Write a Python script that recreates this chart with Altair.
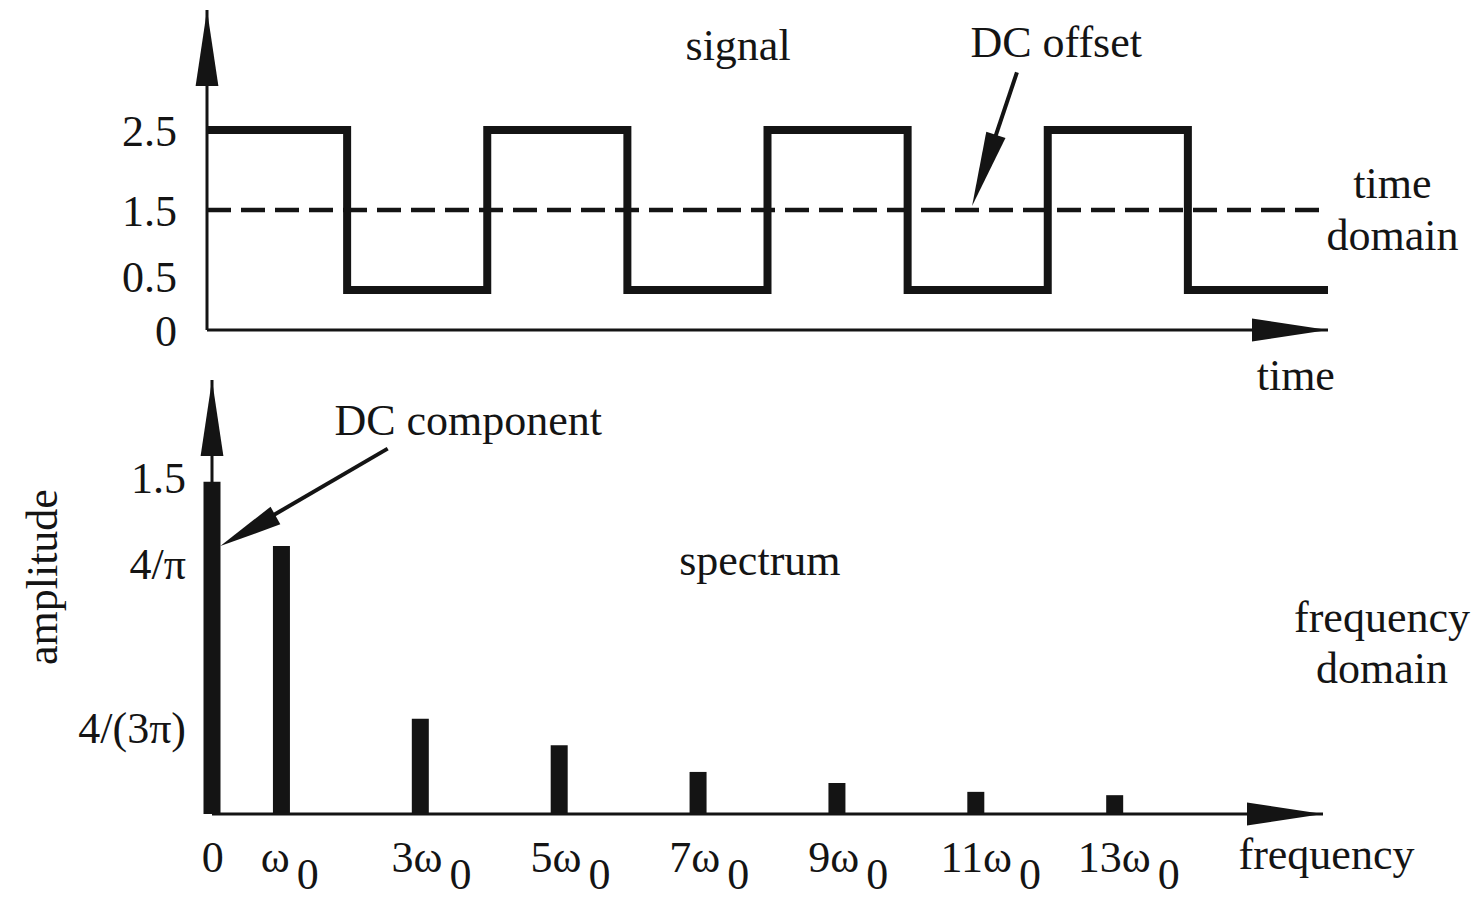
import altair as alt
import pandas as pd

# ---------------- data ----------------
# time domain: square wave, one level per half period
signal_t = [0, 1, 2, 3, 4, 5, 6, 7, 8]
signal_v = [2.5, 0.5, 2.5, 0.5, 2.5, 0.5, 2.5, 0.5, 0.5]
dc_offset = 1.5
signal_ticks = [0, 0.5, 1.5, 2.5]
signal_tick_labels = ["0", "0.5", "1.5", "2.5"]

# frequency domain: spectrum lines
harmonics = [0, 1, 3, 5, 7, 9, 11, 13]
amplitudes = [1.5, 1.21, 0.43, 0.31, 0.19, 0.14, 0.10, 0.085]
freq_labels = ["0", "ω", "3ω", "5ω", "7ω", "9ω", "11ω", "13ω"]
freq_subscripts = ["", "0", "0", "0", "0", "0", "0", "0"]
amp_ticks = [1.51, 1.12, 0.38]
amp_tick_labels = ["1.5", "4/π", "4/(3π)"]

# axis extents (data units)
T_MAX, V_MAX = 8, 4
F_MAX, A_MAX = 16, 1.96

# annotations (data units of each panel)
top_notes = pd.DataFrame({
    "text": ["signal", "DC offset", "time", "domain", "time"],
    "t": [3.79, 6.06, 8.46, 8.46, 7.77],
    "v": [3.54, 3.58, 1.81, 1.16, -0.59],
})
bottom_notes = pd.DataFrame({
    "text": ["DC component", "spectrum", "frequency", "domain", "frequency"],
    "f": [3.69, 7.89, 16.85, 16.85, 16.05],
    "a": [1.77, 1.14, 0.88, 0.65, -0.19],
})
amp_title = pd.DataFrame({"text": ["amplitude"], "f": [-2.42], "a": [1.07]})
offset_arrow = pd.DataFrame({"t": [5.46], "v": [1.55], "t2": [5.78], "v2": [3.22]})
dc_arrow = pd.DataFrame({"f": [0.12], "a": [1.21], "f2": [2.53], "a2": [1.65]})

# ---------------- style ----------------
FONT = "Liberation Serif"
FS = 44
INK = "#141414"
HEAD_AXIS = "M0,0 L0.3,2 L-0.3,2 Z"
HEAD_OFFSET = "M0,0 L0.27,2 L-0.27,2 Z"
HEAD_DC = "M0,0 L0.32,2 L-0.32,2 Z"
text_kw = dict(font=FONT, fontSize=FS, color=INK)

XS_T = alt.Scale(domain=[0, T_MAX], nice=False, zero=False)
YS_T = alt.Scale(domain=[0, V_MAX], nice=False, zero=False)
XS_F = alt.Scale(domain=[0, F_MAX], nice=False, zero=False)
YS_F = alt.Scale(domain=[0, A_MAX], nice=False, zero=False)


def px(field, scale):
    return alt.X(field, type="quantitative", scale=scale, axis=None)


def py(field, scale):
    return alt.Y(field, type="quantitative", scale=scale, axis=None)


def dxd(value, scale):
    return alt.XDatum(value, type="quantitative", scale=scale, axis=None)


def dyd(value, scale):
    return alt.YDatum(value, type="quantitative", scale=scale, axis=None)


# ---------------- top panel: time domain ----------------
top_axes = pd.DataFrame({"x": [0, 0], "y": [0, 0], "x2": [0, T_MAX], "y2": [V_MAX, 0]})
top_heads = pd.DataFrame({"x": [0, T_MAX], "y": [V_MAX, 0], "angle": [0, 90]})

axes_t = alt.Chart(top_axes).mark_rule(strokeWidth=3, color=INK).encode(
    x=px("x", XS_T), y=py("y", YS_T), x2="x2:Q", y2="y2:Q")
heads_t = alt.Chart(top_heads).mark_point(
    shape=HEAD_AXIS, size=5776, filled=True, opacity=1, color=INK, strokeWidth=0
).encode(x=px("x", XS_T), y=py("y", YS_T), angle=alt.Angle("angle:Q", scale=None))
dc_line = alt.Chart(pd.DataFrame({"dc": [dc_offset]})).mark_rule(
    strokeWidth=4.5, strokeDash=[24, 10], color=INK
).encode(x=dxd(0, XS_T), x2=alt.X2Datum(T_MAX), y=py("dc", YS_T))
wave = alt.Chart(pd.DataFrame({"t": signal_t, "v": signal_v})).mark_line(
    interpolate="step-after", strokeWidth=8, color=INK, strokeJoin="miter"
).encode(x=px("t", XS_T), y=py("v", YS_T))
# the 0.5 label sits slightly above its level so it clears the 0 label
ticks_t = alt.Chart(pd.DataFrame({"v": signal_ticks, "label": signal_tick_labels})).transform_calculate(
    lv="datum.v == 0.5 ? datum.v + 0.17 : datum.v"
).mark_text(align="right", baseline="middle", dx=-30, dy=3, **text_kw).encode(
    x=dxd(0, XS_T), y=py("lv", YS_T), text="label:N")
notes_t = alt.Chart(top_notes).mark_text(align="center", baseline="middle", **text_kw).encode(
    x=px("t", XS_T), y=py("v", YS_T), text="text:N")
shaft_t = alt.Chart(offset_arrow).transform_calculate(
    te="datum.t + 0.25 * (datum.t2 - datum.t)", ve="datum.v + 0.25 * (datum.v2 - datum.v)"
).mark_rule(strokeWidth=4, color=INK).encode(
    x=px("t2", XS_T), y=py("v2", YS_T), x2="te:Q", y2="ve:Q")
head_t = alt.Chart(offset_arrow).mark_point(
    shape=HEAD_OFFSET, size=5625, angle=198.5, filled=True, opacity=1, color=INK, strokeWidth=0
).encode(x=px("t", XS_T), y=py("v", YS_T))

top = alt.layer(axes_t, dc_line, wave, heads_t, ticks_t, notes_t, shaft_t, head_t).properties(
    width=1121, height=320)

# ---------------- bottom panel: frequency domain ----------------
bot_axes = pd.DataFrame({"x": [0, 0], "y": [0, 0], "x2": [0, F_MAX], "y2": [A_MAX, 0]})
bot_heads = pd.DataFrame({"x": [0, F_MAX], "y": [A_MAX, 0], "angle": [0, 90]})
spec_df = pd.DataFrame({"h": harmonics, "amp": amplitudes, "main": freq_labels,
                        "sub": freq_subscripts})

axes_f = alt.Chart(bot_axes).mark_rule(strokeWidth=3, color=INK).encode(
    x=px("x", XS_F), y=py("y", YS_F), x2="x2:Q", y2="y2:Q")
heads_f = alt.Chart(bot_heads).mark_point(
    shape=HEAD_AXIS, size=5776, filled=True, opacity=1, color=INK, strokeWidth=0
).encode(x=px("x", XS_F), y=py("y", YS_F), angle=alt.Angle("angle:Q", scale=None))
bars = alt.Chart(spec_df).mark_bar(size=17, color=INK, orient="vertical").encode(
    x=px("h", XS_F), y=py("amp", YS_F))
xlab = alt.Chart(spec_df).transform_calculate(
    lx="datum.h + (datum.sub == '' ? 0.17 : 0.2 * length(datum.main) - 0.08)")
main_lab = xlab.mark_text(align="right", baseline="alphabetic", dy=58, **text_kw).encode(
    x=px("lx", XS_F), y=dyd(0, YS_F), text="main:N")
sub_lab = xlab.mark_text(align="left", baseline="alphabetic", dx=7, dy=75, **text_kw).encode(
    x=px("lx", XS_F), y=dyd(0, YS_F), text="sub:N")
ylab = alt.Chart(pd.DataFrame({"a": amp_ticks, "label": amp_tick_labels})).mark_text(
    align="right", baseline="middle", dx=-26, **text_kw
).encode(x=dxd(0, XS_F), y=py("a", YS_F), text="label:N")
notes_f = alt.Chart(bottom_notes).mark_text(align="center", baseline="middle", **text_kw).encode(
    x=px("f", XS_F), y=py("a", YS_F), text="text:N")
title_f = alt.Chart(amp_title).mark_text(align="center", baseline="middle", angle=270, **text_kw).encode(
    x=px("f", XS_F), y=py("a", YS_F), text="text:N")
shaft_f = alt.Chart(dc_arrow).transform_calculate(
    fe="datum.f + 0.25 * (datum.f2 - datum.f)", ae="datum.a + 0.25 * (datum.a2 - datum.a)"
).mark_rule(strokeWidth=4, color=INK).encode(
    x=px("f2", XS_F), y=py("a2", YS_F), x2="fe:Q", y2="ae:Q")
head_f = alt.Chart(dc_arrow).mark_point(
    shape=HEAD_DC, size=3969, angle=241, filled=True, opacity=1, color=INK, strokeWidth=0
).encode(x=px("f", XS_F), y=py("a", YS_F))

bottom = alt.layer(axes_f, bars, heads_f, main_lab, sub_lab, ylab, notes_f, title_f,
                   shaft_f, head_f).properties(width=1121, height=434)

chart = alt.vconcat(top, bottom, spacing=50, bounds="flush").properties(
    padding={"left": 13, "top": 0, "right": 5, "bottom": 5},
    background="white",
).configure_view(stroke=None)

chart.save("out.html", embed_options={"renderer": "svg", "actions": False})
